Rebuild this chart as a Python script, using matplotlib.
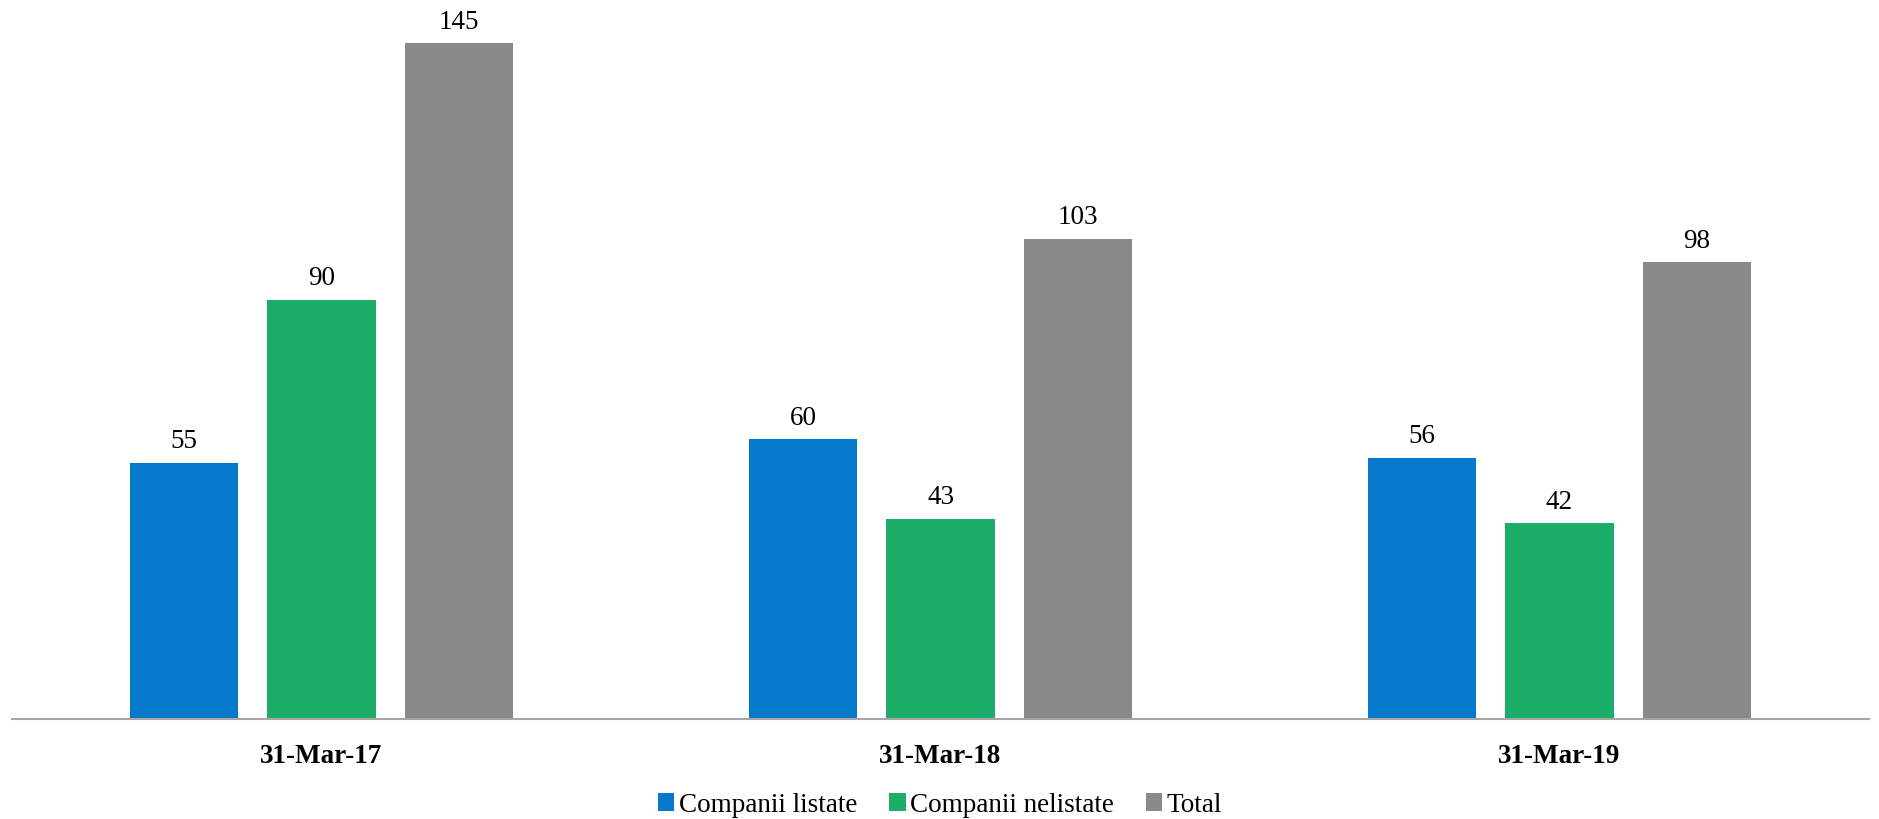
import matplotlib.pyplot as plt
import numpy as np

categories = ["31-Mar-17", "31-Mar-18", "31-Mar-19"]
series_names = ["Companii listate", "Companii nelistate", "Total"]
listate = [55, 60, 56]
nelistate = [90, 43, 42]
total = [145, 103, 98]

colors = ["#0779CC", "#1CAD69", "#898989"]

plt.rcParams['font.family'] = ['Liberation Serif', 'DejaVu Serif']

fig = plt.figure(figsize=(18.79, 8.2), dpi=100)
ax = fig.add_axes([12 / 1879, 100 / 820, 1857 / 1879, 699 / 820])

x = np.arange(len(categories))
width = 0.1745
step = 0.222
for i, (vals, name) in enumerate(zip([listate, nelistate, total], series_names)):
    bars = ax.bar(x + (i - 1) * step, vals, width, color=colors[i], label=name)
    ax.bar_label(bars, labels=[str(v) for v in vals], padding=7, fontsize=19.5)

ax.set_xlim(-0.5, len(categories) - 0.5)
ax.set_ylim(0, 150)
ax.set_xticks(x)
ax.set_xticklabels(categories, fontsize=19.5, fontweight="bold")
ax.tick_params(axis="x", length=0, pad=17)
ax.set_yticks([])
for s in ["top", "right", "left"]:
    ax.spines[s].set_visible(False)
ax.spines["bottom"].set_color("#A6A6A6")
ax.spines["bottom"].set_linewidth(1.5)

fig.legend(loc="center", bbox_to_anchor=(940 / 1879, 14 / 820), ncol=3,
           frameon=False, fontsize=19.5, handlelength=0.6, handleheight=0.6,
           handletextpad=0.15, columnspacing=1.2, borderaxespad=0)

fig.savefig("out.png", dpi=100)
